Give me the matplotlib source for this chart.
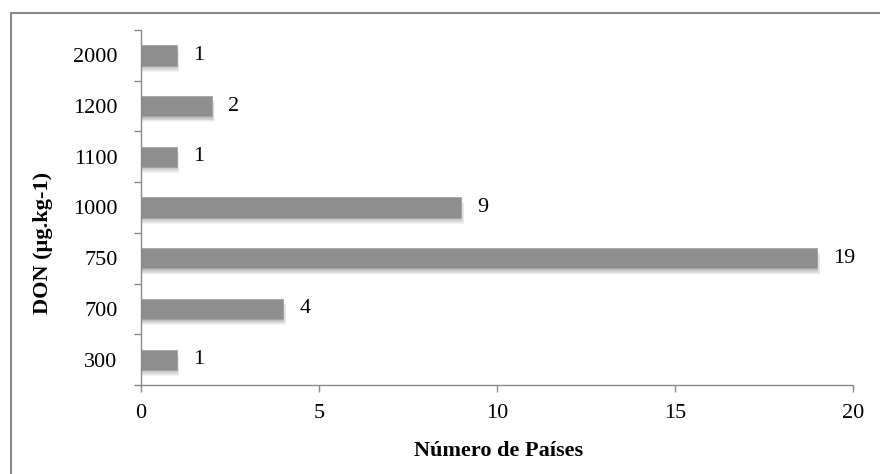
import matplotlib.pyplot as plt
import matplotlib.patches as mpatches

plt.rcParams['font.family'] = ['Liberation Serif', 'DejaVu Serif']

# DON limits (µg/kg) and number of countries using each one
don_levels = ['300', '700', '750', '1000', '1100', '1200', '2000']
num_countries = [1, 4, 19, 9, 1, 2, 1]

fig = plt.figure(figsize=(8.8, 4.74), dpi=100)
ax = fig.add_axes([141 / 880, 89 / 474, 712 / 880, 355 / 474])

ypos = list(range(len(don_levels)))
bar_h = 0.4
fs = 16

# soft drop shadow under each bar
for k in range(6):
    dy = -0.03 - 0.018 * k
    ax.barh([y + dy for y in ypos], [v + 0.015 * k for v in num_countries],
            height=bar_h, color='black', alpha=0.045, linewidth=0, zorder=1)

ax.barh(ypos, num_countries, height=bar_h, color='#8e8e8e',
        edgecolor='#a4a4a4', linewidth=0.6, zorder=2)

for y, v in zip(ypos, num_countries):
    ax.text(v + 0.45, y, str(v), va='center', ha='left', fontsize=fs)

ax.set_xlim(0, 20)
ax.set_ylim(-0.5, len(don_levels) - 0.5)
ax.set_xticks([0, 5, 10, 15, 20])
ax.set_yticks(ypos)
ax.set_yticklabels(don_levels)
ax.set_yticks([y - 0.5 for y in ypos] + [len(don_levels) - 0.5], minor=True)
ax.tick_params(axis='y', which='major', length=0, pad=17, labelsize=fs)
ax.tick_params(axis='y', which='minor', length=5, color='#8a8a8a', width=1)
ax.tick_params(axis='x', length=5, color='#8a8a8a', width=1, pad=9, labelsize=fs)

for side in ['top', 'right']:
    ax.spines[side].set_visible(False)
for side in ['left', 'bottom']:
    ax.spines[side].set_color('#8a8a8a')
    ax.spines[side].set_linewidth(1)

fig.text(43 / 880, 1 - 243 / 474, 'DON (µg.kg-1)', rotation=90, ha='center',
         va='center', fontsize=fs, fontweight='bold')
fig.text(499 / 880, 1 - 451 / 474, 'Número de Países', ha='center',
         va='center', fontsize=fs, fontweight='bold')

# chart frame
fig.patches.append(mpatches.Rectangle((11 / 880, -0.05), 1.1, 1 - 12.5 / 474 + 0.05,
                                      transform=fig.transFigure, fill=False,
                                      edgecolor='#8a8a8a', linewidth=1.5))

fig.savefig('out.png', dpi=100)
